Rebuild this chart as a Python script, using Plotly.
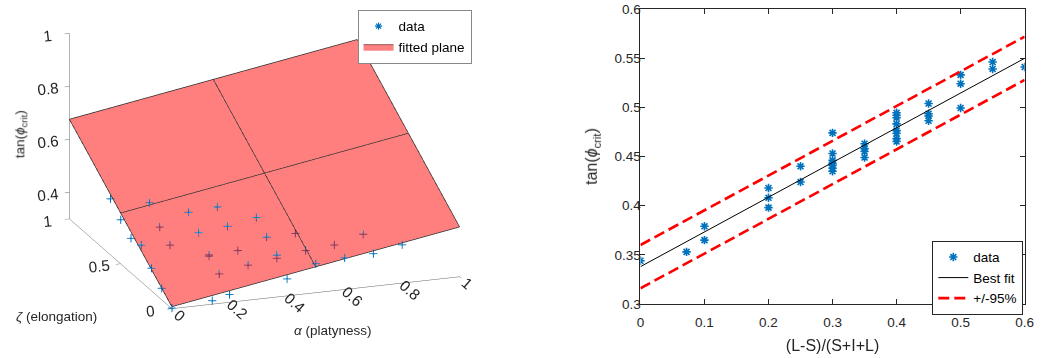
import numpy as np
import plotly.graph_objects as go

# ---------- left panel: critical friction vs. shape factors ----------
alpha = [0.0, 0.1, 0.0, 0.2, 0.3, 0.1, 0.0, 0.0, 0.1, 0.2, 0.3, 0.4, 0.4, 0.2, 0.2,
         0.3, 0.4, 0.4, 0.5, 0.5, 0.5, 0.6, 0.7, 0.6, 0.7, 0.8, 0.0, 0.0, 0.0, 0.2,
         0.3, 0.14, 0.2, 0.4]
zeta = [0.6, 0.5, 0.5, 0.4, 0.4, 0.4, 0.4, 0.3, 0.3, 0.3, 0.3, 0.3, 0.2, 0.2, 0.2,
        0.2, 0.1, 0.1, 0.2, 0.1, 0.0, 0.1, 0.1, 0.0, 0.0, 0.0, 0.2, 0.1, 0.0, 0.1,
        0.1, 0.0, 0.0, 0.0]
tan_phi_3d = [0.512, 0.519, 0.467, 0.505, 0.513, 0.461, 0.431, 0.439, 0.427, 0.462,
              0.474, 0.495, 0.455, 0.407, 0.412, 0.416, 0.409, 0.421, 0.457, 0.426,
              0.410, 0.435, 0.4635, 0.420, 0.424, 0.4455, 0.386, 0.344, 0.303, 0.374,
              0.395, 0.314, 0.330, 0.365]

# fitted plane: tan(phi) = c0 + c_alpha*alpha + c_zeta*zeta
plane_c0 = 0.3075
plane_c_alpha = 0.1805
plane_c_zeta = 0.3685

# ---------- right panel: critical friction vs. (L-S)/(S+I+L) ----------
shape_ratio = [0.0, 0.072, 0.1, 0.1, 0.2, 0.2, 0.2, 0.25, 0.25,
               0.3, 0.3, 0.3, 0.3, 0.3, 0.3, 0.3,
               0.35, 0.35, 0.35, 0.35,
               0.4, 0.4, 0.4, 0.4, 0.4, 0.4, 0.4, 0.4,
               0.45, 0.45, 0.45, 0.45,
               0.5, 0.5, 0.5, 0.55, 0.55, 0.6]
tan_phi = [0.344, 0.353, 0.379, 0.365, 0.418, 0.408, 0.398, 0.440, 0.424,
           0.474, 0.453, 0.446, 0.443, 0.441, 0.438, 0.435,
           0.463, 0.458, 0.455, 0.449,
           0.4944, 0.4919, 0.4895, 0.4831, 0.4763, 0.4734, 0.4681, 0.4652,
           0.5039, 0.4935, 0.4912, 0.4863,
           0.533, 0.524, 0.4993, 0.546, 0.539, 0.541]

fit_intercept = 0.338
fit_slope = 0.353
band_halfwidth = 0.022

x_ticks = [0, 0.1, 0.2, 0.3, 0.4, 0.5, 0.6]
y_ticks = [0.3, 0.35, 0.4, 0.45, 0.5, 0.55, 0.6]

BLUE = "#0072BD"
INK = "#262626"
FONT = "Liberation Sans, Arial, Helvetica, sans-serif"

fig = go.Figure()

# plane surface
a_grid = np.array([0.0, 1.0])
z_grid = np.array([0.0, 1.0])
A, Zg = np.meshgrid(a_grid, z_grid)
T = plane_c0 + plane_c_alpha * A + plane_c_zeta * Zg
fig.add_trace(go.Surface(
    x=a_grid, y=z_grid, z=T,
    colorscale=[[0, "#FF0000"], [1, "#FF0000"]], showscale=False, opacity=0.5,
    lighting=dict(ambient=1, diffuse=0, specular=0, fresnel=0, roughness=1),
    hoverinfo="skip", scene="scene", showlegend=False,
))

# mesh edges of the plane
ex, ey, ez = [], [], []
for v in (0.0, 0.5, 1.0):
    for (a0, z0, a1, z1) in ((0.0, v, 1.0, v), (v, 0.0, v, 1.0)):
        ex += [a0, a1, None]
        ey += [z0, z1, None]
        ez += [plane_c0 + plane_c_alpha * a0 + plane_c_zeta * z0,
               plane_c0 + plane_c_alpha * a1 + plane_c_zeta * z1, None]
fig.add_trace(go.Scatter3d(
    x=ex, y=ey, z=ez, mode="lines", line=dict(color="#222222", width=1.5),
    hoverinfo="skip", showlegend=False, scene="scene",
))

fig.add_trace(go.Scatter3d(
    x=alpha, y=zeta, z=tan_phi_3d, mode="markers", name="data",
    marker=dict(symbol="cross", size=4.5, color=BLUE),
    scene="scene", showlegend=False,
))

# legend entries for the 3D panel
fig.add_trace(go.Scatter(
    x=[None], y=[None], mode="markers", name="data",
    marker=dict(symbol="asterisk-open", size=6, color=BLUE,
                line=dict(color=BLUE, width=1.2)),
    legend="legend2",
))
fig.add_trace(go.Scatter(
    x=[None], y=[None], mode="lines", fill="toself", name="fitted plane",
    fillcolor="#FF8080", line=dict(color="#9A5555", width=1),
    legend="legend2",
))

# right panel traces
fig.add_trace(go.Scatter(
    x=shape_ratio, y=tan_phi, mode="markers", name="data",
    marker=dict(symbol="asterisk-open", size=7, color=BLUE,
                line=dict(color=BLUE, width=1.6)),
    legend="legend",
))
xl = np.array([0.0, 0.6])
yfit = fit_intercept + fit_slope * xl
fig.add_trace(go.Scatter(
    x=xl, y=yfit, mode="lines", name="Best fit",
    line=dict(color="black", width=1), legend="legend",
))
fig.add_trace(go.Scatter(
    x=xl, y=yfit + band_halfwidth, mode="lines", name="+/-95%",
    line=dict(color="#FF0000", width=2.6, dash="11px,5px"), legend="legend",
))
fig.add_trace(go.Scatter(
    x=xl, y=yfit - band_halfwidth, mode="lines", name="+/-95%",
    line=dict(color="#FF0000", width=2.6, dash="11px,5px"), showlegend=False,
))

ax3d = dict(showgrid=False, zeroline=False, showbackground=False, showline=True,
            linecolor="#666666", linewidth=1, ticks="outside", ticklen=5,
            tickcolor="#666666", showspikes=False, title=dict(text=""),
            tickfont=dict(family=FONT, size=13.5, color=INK))

cam_shift = -0.1437
fig.update_layout(
    width=1045, height=358,
    margin=dict(l=0, r=0, t=0, b=0),
    paper_bgcolor="white", plot_bgcolor="white",
    font=dict(family=FONT, size=13.5, color=INK),
    scene=dict(
        domain=dict(x=[0.0, 0.505], y=[0.0, 1.0]),
        xaxis=dict(ax3d, range=[0, 1], tickvals=[0, 0.2, 0.4, 0.6, 0.8, 1]),
        yaxis=dict(ax3d, range=[0, 1], tickvals=[0, 0.5, 1]),
        zaxis=dict(ax3d, range=[0.3, 1], tickvals=[0.4, 0.6, 0.8, 1]),
        aspectmode="manual", aspectratio=dict(x=1.781, y=1.781, z=1.138),
        camera=dict(eye=dict(x=-0.637, y=-1.79, z=0.624 + cam_shift),
                    up=dict(x=0, y=0, z=1), center=dict(x=0, y=0, z=cam_shift),
                    projection=dict(type="orthographic")),
    ),
    xaxis=dict(domain=[0.6167, 0.989], range=[0, 0.6], tickvals=x_ticks,
               ticktext=[f"{v:g}" for v in x_ticks], ticks="inside",
               ticklen=5, mirror="allticks", showline=True, linecolor=INK,
               showgrid=False, zeroline=False, tickcolor=INK, ticklabelstandoff=6,
               ticklabeloverflow="allow",
               title=dict(text="(L-S)/(S+I+L)", standoff=10)),
    yaxis=dict(domain=[0.134, 0.9944], range=[0.3, 0.6], tickvals=y_ticks,
               ticktext=[f"{v:g}" for v in y_ticks], ticks="inside",
               ticklen=5, mirror="allticks", showline=True, linecolor=INK,
               showgrid=False, zeroline=False, tickcolor=INK, ticklabelstandoff=-4,
               ticklabeloverflow="allow",
               title=dict(text="tan(<i>ϕ</i><sub>crit</sub>)", standoff=12)),
    legend=dict(x=940 / 1045, y=1 - 244 / 358, xanchor="left", yanchor="top",
                bordercolor=INK, borderwidth=1, bgcolor="white",
                font=dict(size=13.5, color="black"), tracegroupgap=0),
    legend2=dict(x=358 / 1045, y=1 - 3 / 358, xanchor="left", yanchor="top",
                 bordercolor="#888888", borderwidth=1, bgcolor="white",
                 font=dict(size=13.5, color="black"), tracegroupgap=0,
                 traceorder="normal"),
    annotations=[
        dict(text="tan(<i>ϕ</i><sub>crit</sub>)", x=17 / 1045, y=1 - 133 / 358,
             xref="paper", yref="paper", xanchor="center", yanchor="middle",
             showarrow=False, textangle=-90, font=dict(size=13.5, color=INK)),
        dict(text="<i>ζ</i> (elongation)", x=53 / 1045, y=1 - 323 / 358,
             xref="paper", yref="paper", xanchor="center", yanchor="middle",
             showarrow=False, font=dict(size=13.5, color=INK)),
        dict(text="<i>α</i> (platyness)", x=333 / 1045, y=1 - 338 / 358,
             xref="paper", yref="paper", xanchor="center", yanchor="middle",
             showarrow=False, font=dict(size=13.5, color=INK)),
    ],
)

fig.write_html("out.html", config={"displayModeBar": False})
